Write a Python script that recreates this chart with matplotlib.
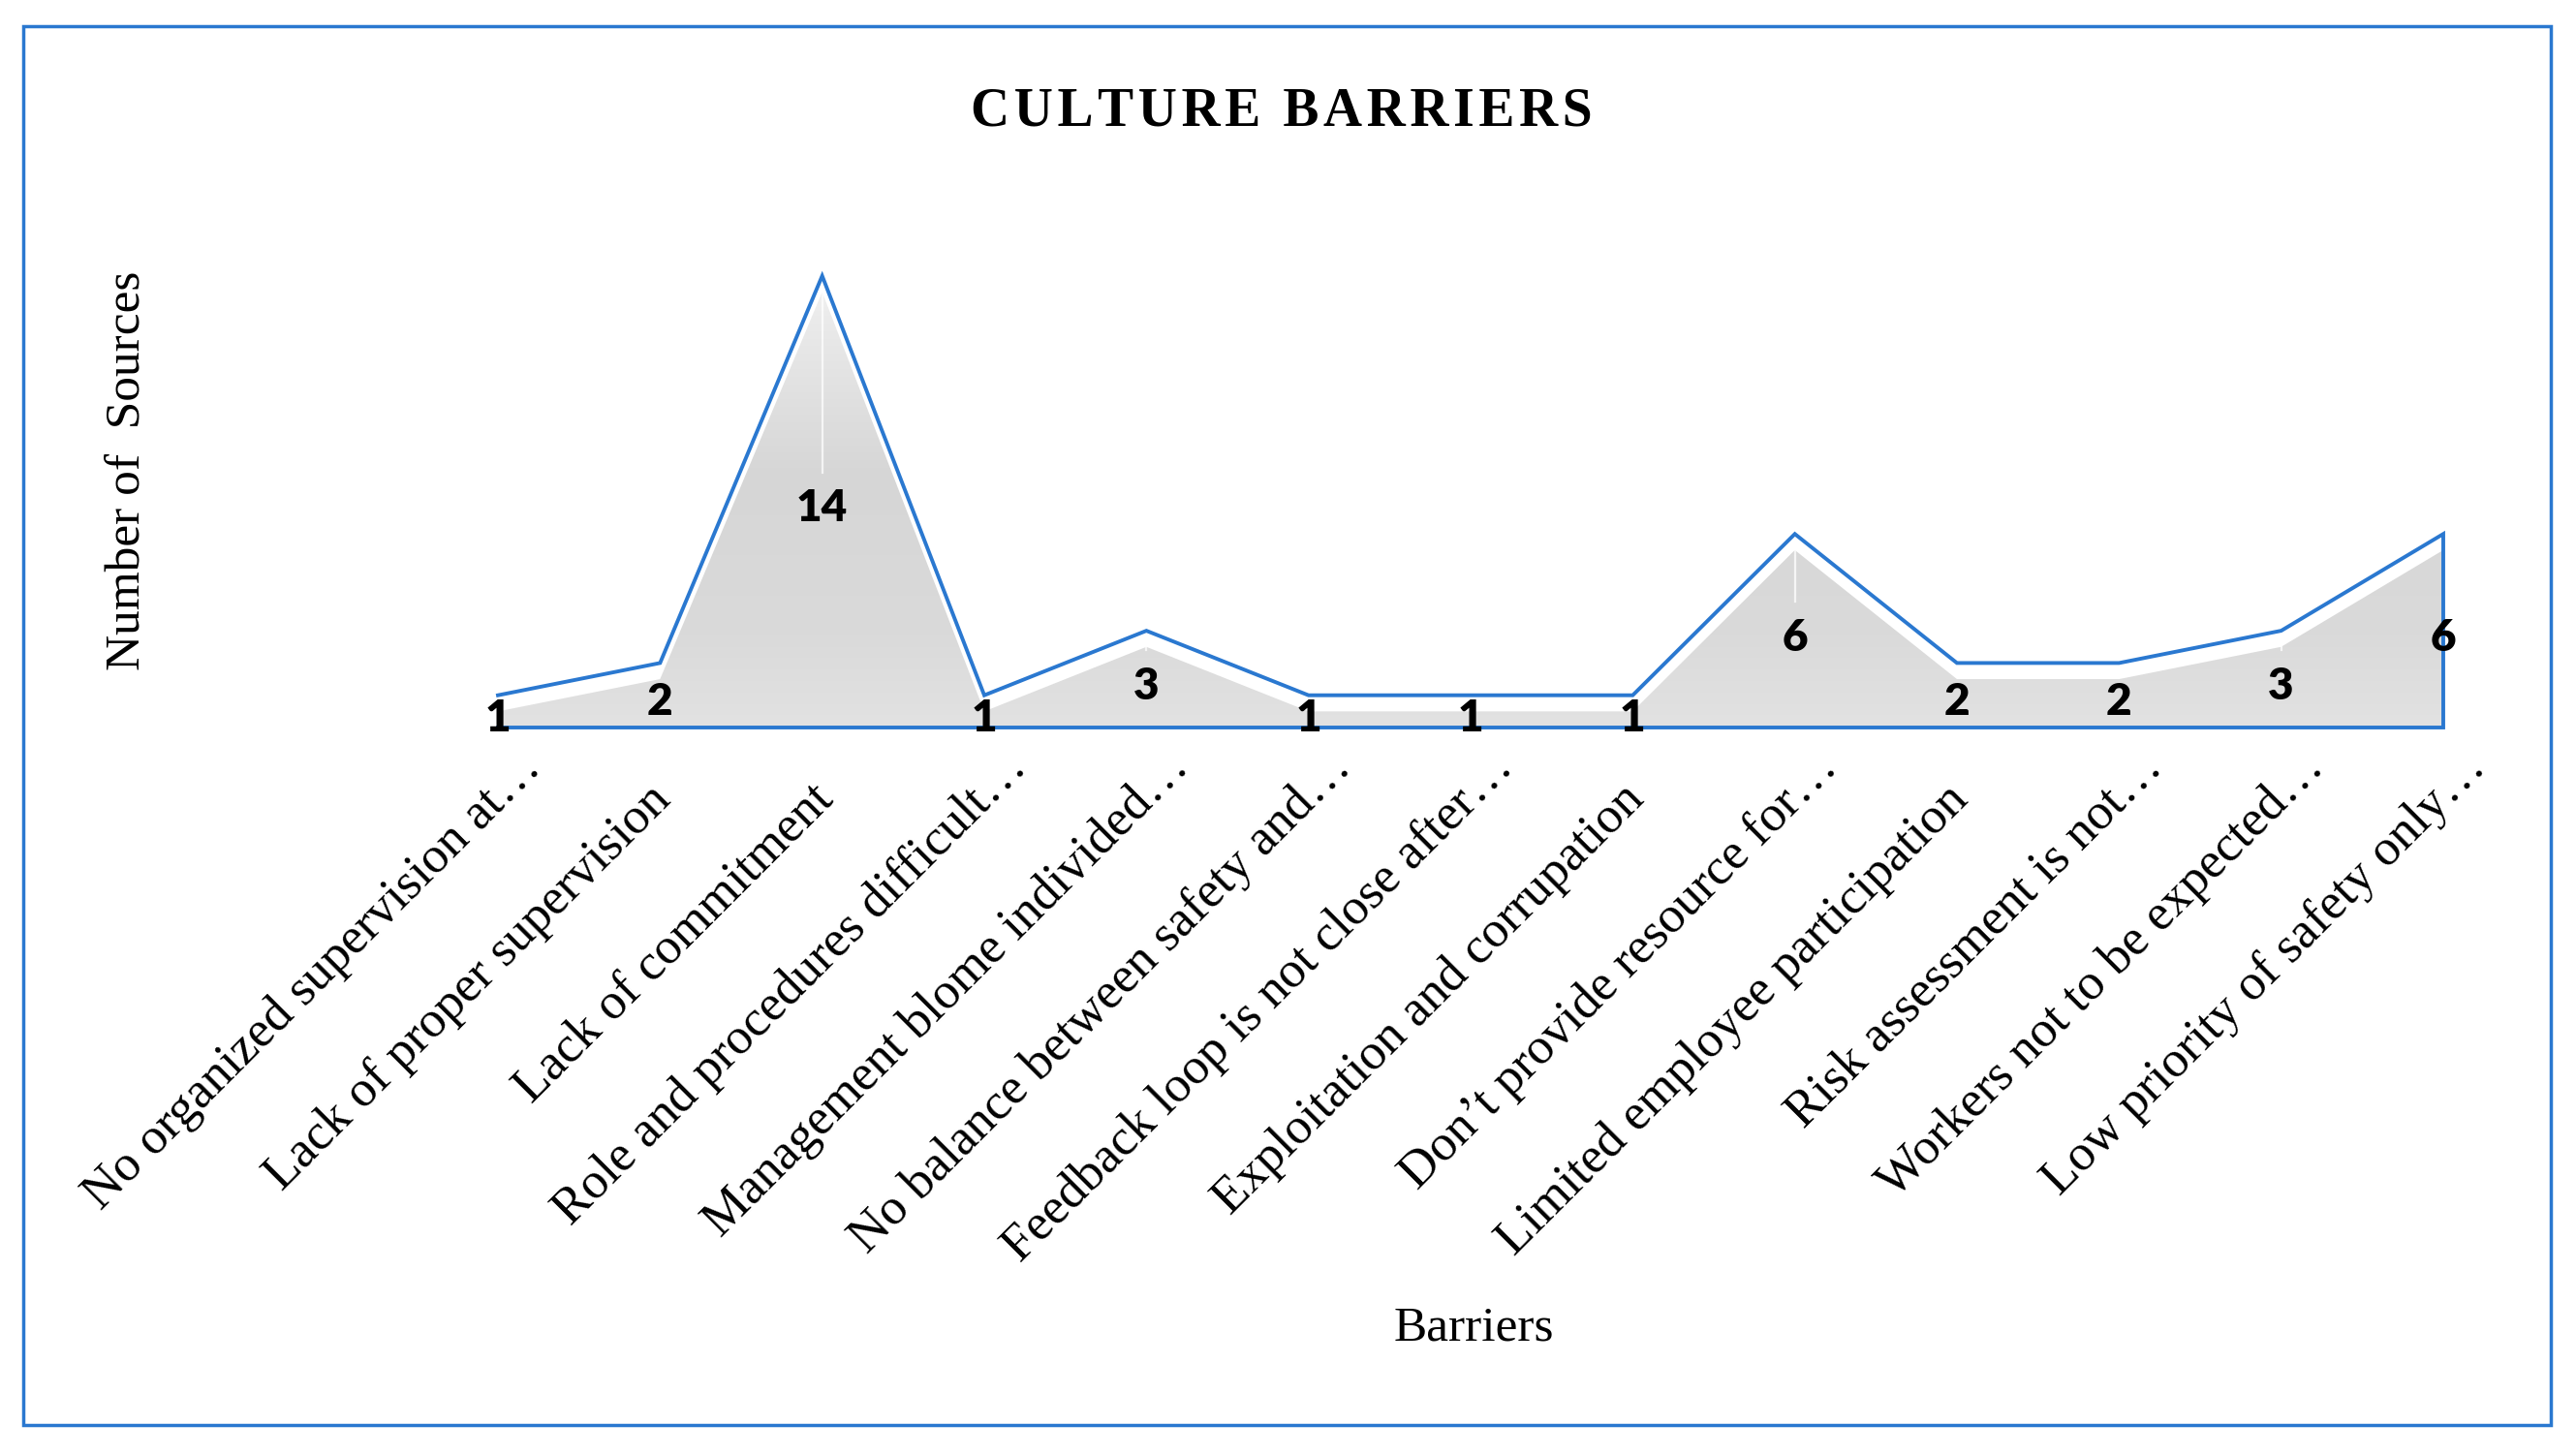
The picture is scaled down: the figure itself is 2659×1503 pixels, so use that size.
import matplotlib
matplotlib.use('Agg')
import matplotlib.pyplot as plt
import numpy as np
from matplotlib.transforms import ScaledTranslation
from matplotlib.patches import Rectangle, Polygon
from matplotlib.colors import LinearSegmentedColormap

# ---- data ----
categories = [
    "No organized supervision at…",
    "Lack of proper supervision",
    "Lack of commitment",
    "Role and procedures difficult…",
    "Management blome individed…",
    "No balance between safety and…",
    "Feedback loop is not close after…",
    "Exploitation and corrupation",
    "Don’t provide resource for…",
    "Limited employee participation",
    "Risk assessment is not…",
    "Workers not to be expected…",
    "Low priority of safety only…",
]
values = [1, 2, 14, 1, 3, 1, 1, 1, 6, 2, 2, 3, 6]
title_text = "CULTURE BARRIERS"
xlabel_text = "Barriers"
ylabel_text = "Number of  Sources"

W, H = 2659, 1503
SERIF = ['Liberation Serif', 'DejaVu Serif']
SANS = ['Lato', 'DejaVu Sans']
blue = '#2A78D0'

fig = plt.figure(figsize=(W / 100, H / 100), dpi=100)
fig.patch.set_facecolor('white')
unit_px = 33.3
ax = fig.add_axes([514 / W, 1 - 751 / H, (2522 - 514) / W, 15 * unit_px / H])
x = np.arange(len(values))
y = np.array(values, dtype=float)
ax.set_xlim(0, len(values) - 1)
ax.set_ylim(0, 15)
ax.axis('off')

# gray "3D" fill slightly below the series line
gray_top = np.clip(y - 0.5, 0, None)
verts = list(zip(x, gray_top)) + [(x[-1], 0), (x[0], 0)]
patch = Polygon(verts, closed=True, facecolor='none', edgecolor='none')
ax.add_patch(patch)
cmap = LinearSegmentedColormap.from_list('g', [
    (0.0, '#E2E2E2'), (0.2, '#DADADA'), (0.55, '#D6D6D6'),
    (0.9, '#EBEBEB'), (1.0, '#F5F5F5')])
grad = np.linspace(0, 1, 256).reshape(-1, 1)
im = ax.imshow(grad, extent=[x[0], x[-1], 0, 14.2], origin='lower',
               aspect='auto', cmap=cmap, zorder=1, interpolation='bilinear')
im.set_clip_path(patch)

# ridge highlights
for i in range(1, len(values) - 1):
    if y[i] >= 3:
        ax.plot([x[i], x[i]], [gray_top[i], y[i] / 2 + 0.9], color='white',
                lw=1.6, alpha=0.75, zorder=2)

# series line
ax.plot(np.r_[x, x[-1], x[0]], np.r_[y, 0, 0], color=blue, lw=2.8,
        solid_joinstyle='miter', clip_on=False, zorder=3)

# data labels
lab_trans = ax.transData + ScaledTranslation(0, -7 / 100, fig.dpi_scale_trans)
for xi, v in zip(x, values):
    ax.text(xi, v / 2, str(v), ha='center', va='center', fontsize=33,
            fontweight='heavy', family=SANS, zorder=4, clip_on=False,
            transform=lab_trans)

# category labels (rotated 45°)
for xi, lab in zip(x, categories):
    ell = lab.endswith('…')
    dx_px = 13 + (33 if ell else 0)
    dy_px = -(76 - (33 if ell else 0))
    trans = ax.transData + ScaledTranslation(dx_px / 100, dy_px / 100,
                                             fig.dpi_scale_trans)
    ax.text(xi, 0, lab, rotation=45, ha='right', va='baseline',
            rotation_mode='anchor', transform=trans, fontsize=38,
            family=SERIF, clip_on=False)

# title and axis labels
fig.text(1323 / W, 1 - 130 / H, '\u200a'.join(title_text), ha='center',
         va='baseline', fontsize=40, fontweight='bold', family=SERIF)
fig.text(1521 / W, 1 - 1383 / H, xlabel_text, ha='center', va='baseline',
         fontsize=37, family=SERIF)
fig.text(132 / W, 1 - 486 / H, ylabel_text, ha='center', va='center',
         rotation=90, fontsize=37, family=SERIF)

# outer frame
fig.add_artist(Rectangle((24 / W, 1 - 1471 / H), (2633 - 24) / W,
                         (1471 - 27) / H, transform=fig.transFigure,
                         fill=False, edgecolor=blue, lw=2.5))

fig.savefig('out.png', dpi=100, facecolor='white')
